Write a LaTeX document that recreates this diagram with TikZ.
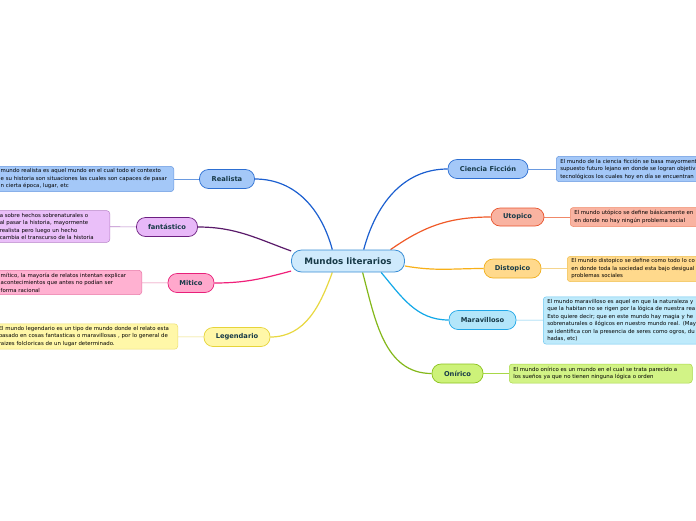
\documentclass[tikz,border=0pt]{standalone}
\usepackage{fontspec}
\setmainfont{DejaVu Sans}
\usepackage{tikz}
\usetikzlibrary{positioning, backgrounds}

\definecolor{textdark}{HTML}{173A48}
\definecolor{topicfill}{HTML}{CFEAFC}\definecolor{topicline}{HTML}{3B8FD6}
\definecolor{realfill}{HTML}{A4C8F8}\definecolor{realline}{HTML}{2D6FD2}\definecolor{realedge}{HTML}{1B5FD0}\definecolor{realnote}{HTML}{6A9AE0}
\definecolor{fantfill}{HTML}{E8B8F8}\definecolor{fantline}{HTML}{6C1F80}\definecolor{fantedge}{HTML}{5A1A6A}\definecolor{fantnote}{HTML}{B880C8}
\definecolor{mitfill}{HTML}{FFA8CC}\definecolor{mitline}{HTML}{E8207A}\definecolor{mitedge}{HTML}{F0207A}\definecolor{mitnote}{HTML}{E878A8}
\definecolor{legfill}{HTML}{FFF7A8}\definecolor{legline}{HTML}{E6D43A}\definecolor{legedge}{HTML}{E8D840}\definecolor{legnote}{HTML}{ECDF70}
\definecolor{utofill}{HTML}{F9B3A1}\definecolor{utoline}{HTML}{E8552E}\definecolor{utoedge}{HTML}{F05A28}\definecolor{utonote}{HTML}{F08868}
\definecolor{disfill}{HTML}{FFD98C}\definecolor{disline}{HTML}{F0B020}\definecolor{disedge}{HTML}{F8B018}\definecolor{disnote}{HTML}{F0C050}
\definecolor{marfill}{HTML}{B3E6FA}\definecolor{marline}{HTML}{22A8E8}\definecolor{maredge}{HTML}{12A8E8}\definecolor{marnote}{HTML}{70C8F0}
\definecolor{onifill}{HTML}{CDF279}\definecolor{oniline}{HTML}{8CC21F}\definecolor{oniedge}{HTML}{84B81A}\definecolor{oninote}{HTML}{A8D848}

\tikzset{
    topic/.style={rectangle, rounded corners=10pt, draw=topicline, fill=topicfill, line width=0.8pt, minimum height=22pt, minimum width=113pt, font=\fontsize{8.8}{10}\selectfont\bfseries, text=textdark},
    branch/.style={rectangle, rounded corners=9pt, draw, line width=0.7pt, minimum height=19pt, inner xsep=8pt, font=\fontsize{6.7}{7.5}\selectfont\bfseries, text=textdark},
    note/.style={rectangle, rounded corners=3pt, draw, line width=0.5pt, align=left, inner xsep=4pt, inner ysep=2.5pt, minimum height=19pt, font=\fontsize{5.4}{7.5}\selectfont, text=black},
    link/.style={line width=1.2pt},
    notelink/.style={line width=0.6pt}
}

\begin{document}
\begin{tikzpicture}[x=1pt, y=-1pt]
    \useasboundingbox (0,0) rectangle (696,520);
    \clip (0,0) rectangle (696,520);

    \node[topic] (mundos) at (348,261) {Mundos literarios};

    % left side
    \node[branch, draw=realline, fill=realfill, minimum width=55pt] (realista) at (227,179) {Realista};
    \node[branch, draw=fantline, fill=fantfill, minimum width=61pt] (fantastico) at (167,227) {fantástico};
    \node[branch, draw=mitline, fill=mitfill, minimum width=46pt] (mitico) at (191,283) {Mitico};
    \node[branch, draw=legline, fill=legfill, minimum width=66pt] (legendario) at (237,337) {Legendario};

    \node[note, draw=realnote, fill=realfill, text width=169pt, anchor=east] (realnote) at (174,179)
        {mundo realista es aquel mundo en el cual todo el contexto\\e su historia son situaciones las cuales son capaces de pasar\\n cierta época, lugar, etc};
    \node[note, draw=fantnote, fill=fantfill!90!white, text width=106pt, anchor=east] (fantnote) at (110,226.5)
        {a sobre hechos sobrenaturales o\\al pasar la historia, mayormente\\realista pero luego un hecho\\cambia el transcurso de la historia};
    \node[note, draw=mitnote, fill=mitfill!90!white, text width=137pt, anchor=east] (mitnote) at (142,282.5)
        {mítico, la mayoría de relatos intentan explicar\\acontecimientos que antes no podían ser\\forma racional};
    \node[note, draw=legnote, fill=legfill, text width=175pt, anchor=east] (legnote) at (178,336.5)
        {El mundo legendario es un tipo de mundo donde el relato esta\\basado en cosas fantasticas o maravillosas , por lo general de\\raizes folcloricas de un lugar determinado.};

    % right side
    \node[branch, draw=realline, fill=realfill, minimum width=80pt] (ciencia) at (488,169) {Ciencia Ficción};
    \node[branch, draw=utoline, fill=utofill, minimum width=53pt, minimum height=18pt] (utopico) at (517.5,217) {Utopico};
    \node[branch, draw=disline, fill=disfill, minimum width=57pt] (distopico) at (512.5,268.5) {Distopico};
    \node[branch, draw=marline, fill=marfill, minimum width=67pt] (maravilloso) at (482.5,320) {Maravilloso};
    \node[branch, draw=oniline, fill=onifill, minimum width=51pt] (onirico) at (457.5,373.5) {Onírico};

    \node[note, draw=realnote, fill=realfill, text width=200pt, anchor=west] (ciencianote) at (556,169)
        {El mundo de la ciencia ficción se basa mayorment\\supuesto futuro lejano en donde se logran objetiv\\tecnológicos los cuales hoy en día se encuentran};
    \node[note, draw=utonote, fill=utofill, text width=200pt, anchor=west] (utonote) at (570,217)
        {El mundo utópico se define básicamente en\\en donde no hay ningún problema social};
    \node[note, draw=disnote, fill=disfill, text width=200pt, anchor=west] (disnote) at (567,269)
        {El mundo distopico se define como todo lo co\\en donde toda la sociedad esta bajo desigual\\problemas sociales};
    \node[note, draw=marnote, fill=marfill!85!white, text width=200pt, anchor=west] (marnote) at (543,320.5)
        {El mundo maravilloso es aquel en que la naturaleza y\\que la habitan no se rigen por la lógica de nuestra rea\\Esto quiere decir; que en este mundo hay magia y he\\sobrenaturales o ilógicos en nuestro mundo real. (May\\se identifica con la presencia de seres como ogros, du\\hadas, etc)};
    \node[note, draw=oninote, fill=onifill!90!white, text width=175pt, anchor=west] (oninote) at (509,373.5)
        {El mundo onírico es un mundo en el cual se trata parecido a\\los sueños ya que no tienen ninguna lógica o orden};

    \begin{pgfonlayer}{background}
    \fill[white] (0,0) rectangle (696,520);
    \draw[link, realedge] (mundos.144) to[out=105, in=0] (realista.east);
    \draw[link, fantedge] (mundos.170) to[out=160, in=0] (fantastico.east);
    \draw[link, mitedge] (mundos.190) to[out=195, in=0] (mitico.east);
    \draw[link, legedge] (mundos.216) to[out=250, in=0] (legendario.east);
    \draw[link, realedge] (mundos.36) to[out=75, in=180] (ciencia.west);
    \draw[link, utoedge] (mundos.15) to[out=35, in=180] (utopico.west);
    \draw[link, disedge] (mundos.355) to[out=-10, in=180] (distopico.west);
    \draw[link, maredge] (mundos.-19) to[out=-50, in=180] (maravilloso.west);
    \draw[link, oniedge] (mundos.-38) to[out=-75, in=180] (onirico.west);

    \draw[notelink, realnote] (realista) -- (realnote);
    \draw[notelink, fantnote] (fantastico) -- (fantnote);
    \draw[notelink, mitnote] (mitico) -- (mitnote);
    \draw[notelink, legnote] (legendario) -- (legnote);
    \draw[notelink, realnote] (ciencia) -- (ciencianote);
    \draw[notelink, utonote] (utopico) -- (utonote);
    \draw[notelink, disnote] (distopico) -- (disnote);
    \draw[notelink, marnote] (maravilloso) -- (marnote);
    \draw[notelink, oninote] (onirico) -- (oninote);
    \end{pgfonlayer}
\end{tikzpicture}
\end{document}
